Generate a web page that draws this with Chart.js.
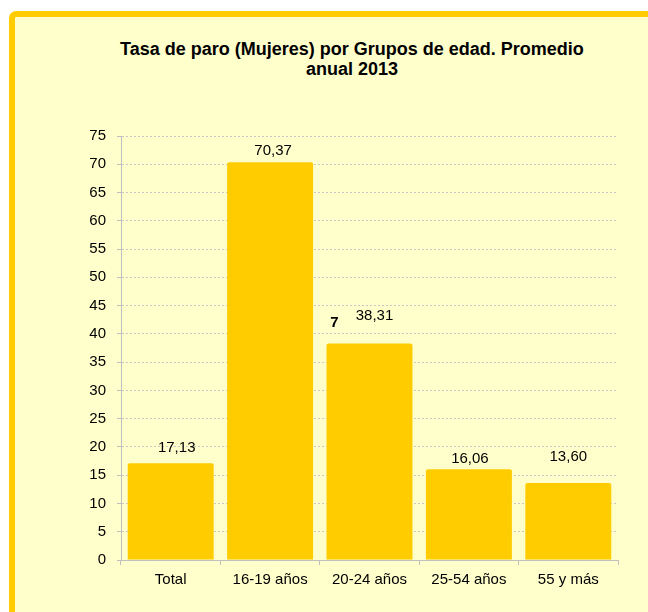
<!DOCTYPE html>
<html>
<head>
<meta charset="utf-8">
<script src="https://cdn.jsdelivr.net/npm/chart.js@4/dist/chart.umd.min.js"></script>
<style>
  html, body { margin:0; padding:0; background:#ffffff; width:648px; height:612px; overflow:hidden; }
  #frame { position:absolute; left:9px; top:11px; width:700px; height:700px; border:6px solid #FFCC00; border-radius:7px; background:#FFFFCC; box-sizing:border-box; }
  #title { position:absolute; left:52px; top:39px; width:600px; text-align:center; font-family:"Liberation Sans", Arial, sans-serif; font-weight:bold; font-size:18px; line-height:20px; color:#000; }
  #c { position:absolute; left:0; top:0; }
</style>
</head>
<body>
<div id="frame"></div>
<div id="title">Tasa de paro (Mujeres) por Grupos de edad. Promedio<br>anual 2013</div>
<canvas id="c" width="648" height="612"></canvas>
<script>
const categories = ["Total", "16-19 años", "20-24 años", "25-54 años", "55 y más"];
const values = [17.13, 70.37, 38.31, 16.06, 13.60];
const yMin = 0;
const yMax = 75;
const yStep = 5;
const strayMark = "7"; // stray character visible next to the 20-24 label in the original
const strayIndex = 2;

// label placement offsets (style only, px)
const labelDx = [6, 3, 5, 1, 0];
const labelDy = [-15, -11, -28, -10, -26];

const FONT = '"Liberation Sans", Arial, sans-serif';

const labelPlugin = {
  id: 'valueLabels',
  afterDatasetsDraw(chart) {
    const ctx = chart.ctx;
    const meta = chart.getDatasetMeta(0);
    ctx.save();
    ctx.font = '15px ' + FONT;
    ctx.fillStyle = '#000';
    ctx.textAlign = 'center';
    ctx.textBaseline = 'middle';
    meta.data.forEach((bar, i) => {
      const txt = values[i].toFixed(2).replace('.', ',');
      ctx.fillText(txt, bar.x + labelDx[i], bar.y + labelDy[i]);
    });
    const sb = meta.data[strayIndex];
    ctx.font = 'bold 15px ' + FONT;
    ctx.fillText(strayMark, sb.x - 35, sb.y - 21);
    ctx.restore();
  }
};

new Chart(document.getElementById('c'), {
  type: 'bar',
  data: {
    labels: categories,
    datasets: [{
      data: values,
      backgroundColor: '#FFCC00',
      borderWidth: 0,
      borderRadius: 2,
      borderSkipped: 'bottom',
      categoryPercentage: 1.0,
      barPercentage: 0.865
    }]
  },
  options: {
    responsive: false,
    animation: false,
    devicePixelRatio: 1,
    layout: { padding: { left: 0, top: 136, right: 30, bottom: 0 } },
    plugins: {
      legend: { display: false },
      title: { display: false },
      tooltip: { enabled: false }
    },
    scales: {
      x: {
        afterFit(s) { s.height = 52; },
        grid: { display: true, drawOnChartArea: false, offset: true, tickLength: 5, color: '#BFBFBF', tickColor: '#BFBFBF' },
        border: { display: true, color: '#BFBFBF', width: 1 },
        ticks: { color: '#000', font: { family: FONT, size: 15 }, padding: 6, maxRotation: 0 }
      },
      y: {
        min: yMin,
        max: yMax,
        afterFit(s) { s.width = 121; },
        grid: { color: '#C8C8C8', tickColor: '#BFBFBF', tickLength: 4, tickBorderDash: [] },
        border: { display: true, color: '#BFBFBF', width: 1, dash: [2, 2] },
        ticks: { stepSize: yStep, color: '#000', font: { family: FONT, size: 15 }, padding: 11 }
      }
    }
  },
  plugins: [labelPlugin]
});
</script>
</body>
</html>
